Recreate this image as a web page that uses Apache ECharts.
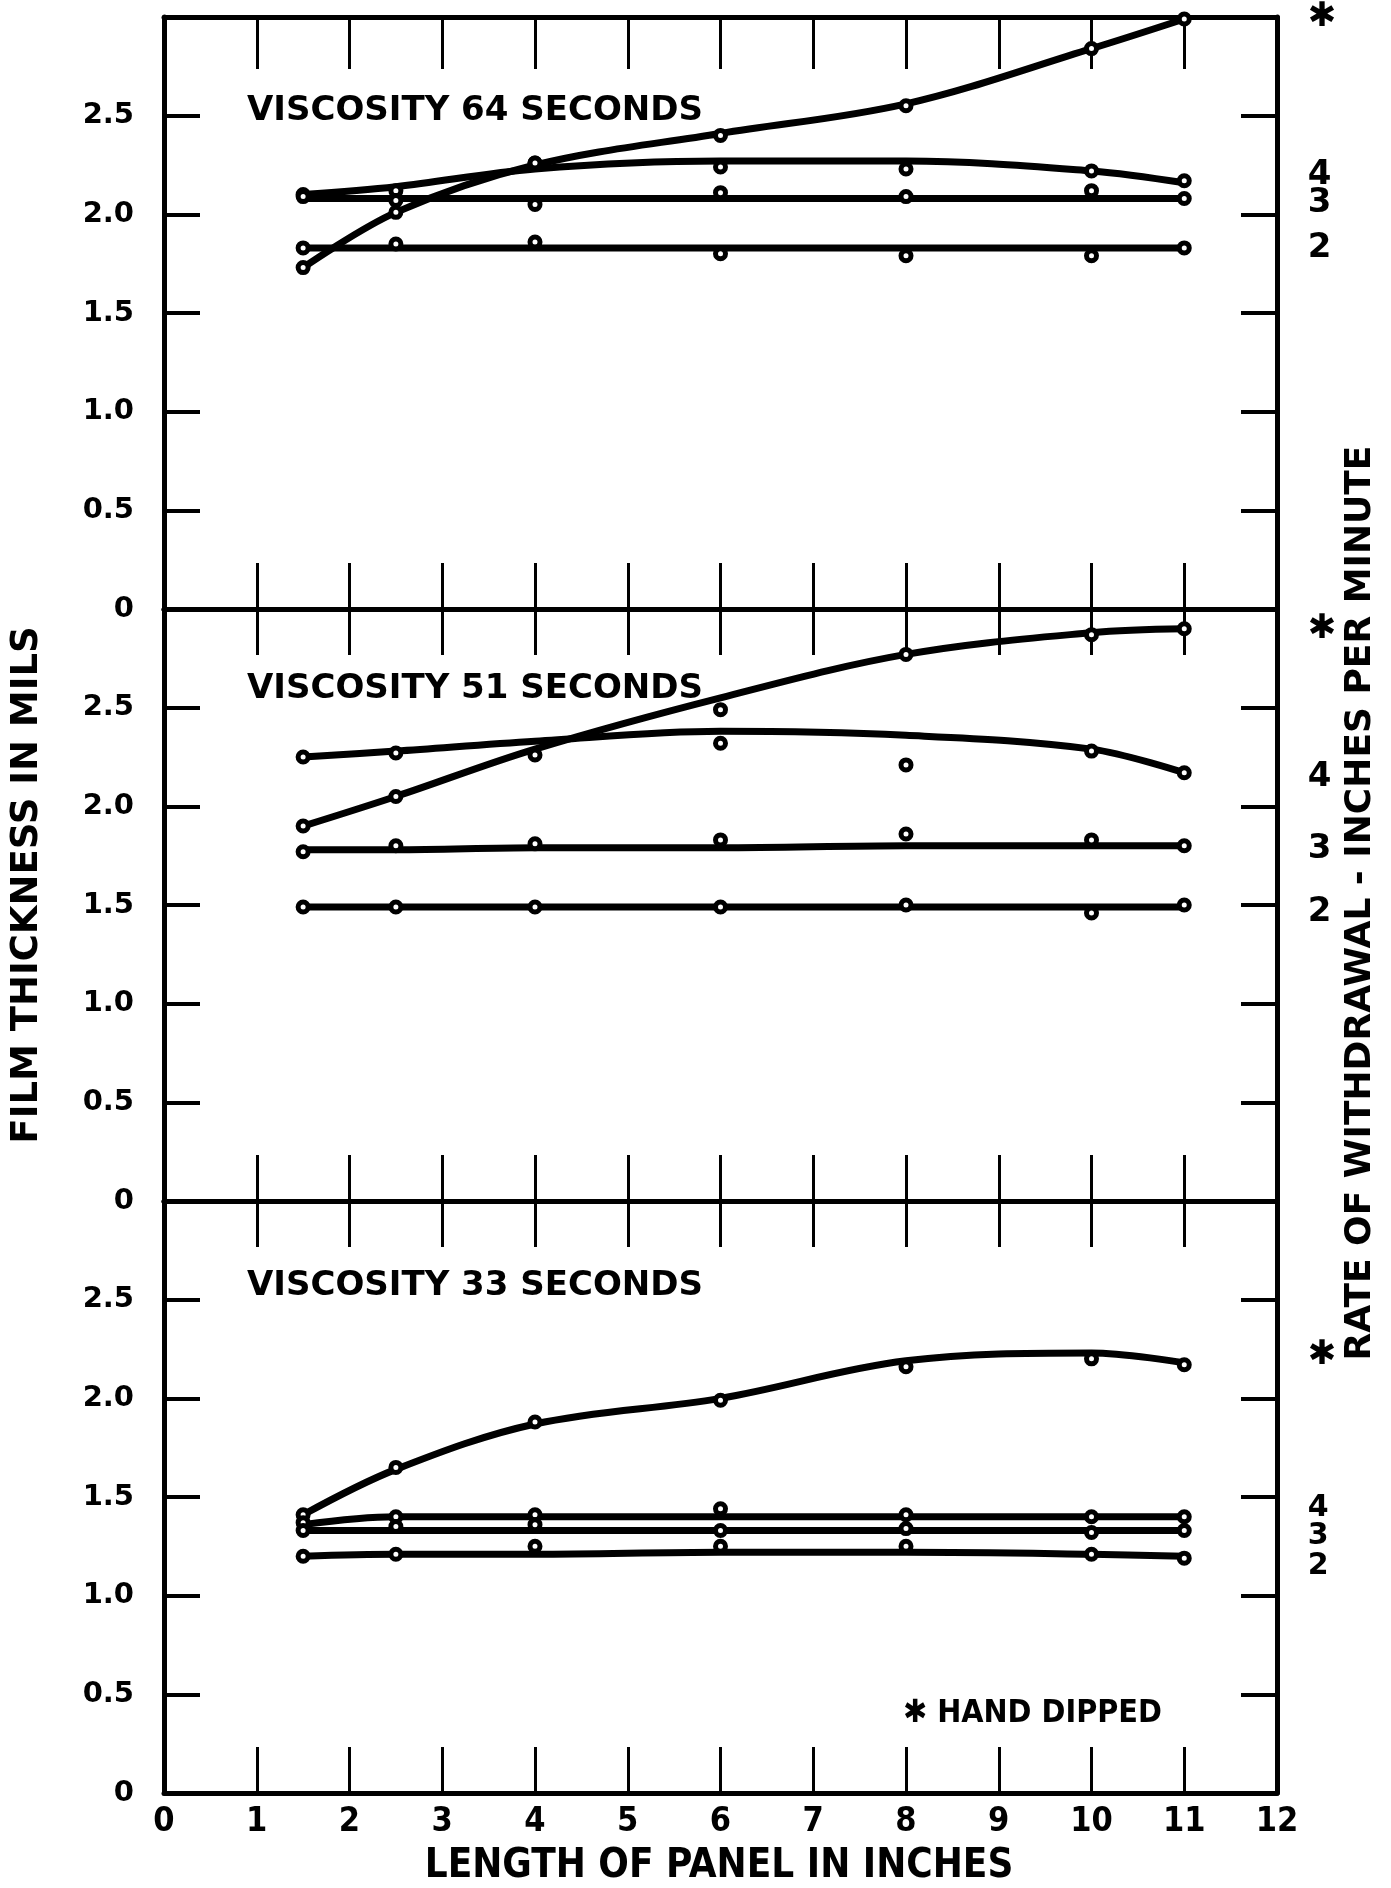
<!DOCTYPE html>
<html><head><meta charset="utf-8">
<script src="https://cdn.jsdelivr.net/npm/echarts@6/dist/echarts.min.js"></script>
<style>html,body{margin:0;padding:0;background:#fff}#chart{width:1391px;height:1888px}</style>
</head><body><div id="chart"></div>
<script>
// ---- data ----
const xInches = [1.5, 2.5, 4, 6, 8, 10, 11];
const xTickLabels = ['0','1','2','3','4','5','6','7','8','9','10','11','12'];
const panelTitles = ['VISCOSITY 64 SECONDS', 'VISCOSITY 51 SECONDS', 'VISCOSITY 33 SECONDS'];
const rateNames = ['✱', '4', '3', '2'];

// Viscosity 64 seconds
const v64HandPts = [1.73, 2.01, 2.26, 2.40, 2.55, 2.84, 2.99];
const v64HandFit = [1.73, 2.01, 2.25, 2.41, 2.56, 2.84, 2.99];
const v64R4Pts = [2.10, 2.12, 2.26, 2.24, 2.23, 2.22, 2.17];
const v64R4Fit = [2.10, 2.14, 2.23, 2.27, 2.27, 2.22, 2.16];
const v64R3Pts = [2.09, 2.07, 2.05, 2.11, 2.09, 2.12, 2.08];
const v64R3Fit = [2.08, 2.08, 2.08, 2.08, 2.08, 2.08, 2.08];
const v64R2Pts = [1.83, 1.85, 1.86, 1.80, 1.79, 1.79, 1.83];
const v64R2Fit = [1.83, 1.83, 1.83, 1.83, 1.83, 1.83, 1.83];

// Viscosity 51 seconds
const v51HandPts = [1.90, 2.05, 2.26, 2.49, 2.77, 2.87, 2.90];
const v51HandFit = [1.90, 2.05, 2.29, 2.55, 2.77, 2.88, 2.90];
const v51R4Pts = [2.25, 2.27, null, 2.32, 2.21, 2.28, 2.17];
const v51R4Fit = [2.25, 2.28, 2.33, 2.38, 2.36, 2.29, 2.17];
const v51R3Pts = [1.77, 1.80, 1.81, 1.83, 1.86, 1.83, 1.80];
const v51R3Fit = [1.78, 1.78, 1.79, 1.79, 1.80, 1.80, 1.80];
const v51R2Pts = [1.49, 1.49, 1.49, 1.49, 1.50, 1.46, 1.50];
const v51R2Fit = [1.49, 1.49, 1.49, 1.49, 1.49, 1.49, 1.49];

// Viscosity 33 seconds
const v33HandPts = [1.41, 1.65, 1.88, 1.99, 2.16, 2.20, 2.17];
const v33HandFit = [1.41, 1.64, 1.87, 2.00, 2.19, 2.23, 2.18];
const v33R4Pts = [1.37, 1.40, 1.41, 1.44, 1.41, 1.40, 1.40];
const v33R4Fit = [1.36, 1.40, 1.40, 1.40, 1.40, 1.40, 1.40];
const v33R3Pts = [1.33, 1.35, 1.36, 1.33, 1.34, 1.32, 1.33];
const v33R3Fit = [1.33, 1.33, 1.33, 1.33, 1.33, 1.33, 1.33];
const v33R2Pts = [1.20, 1.21, 1.25, 1.25, 1.25, 1.21, 1.19];
const v33R2Fit = [1.20, 1.21, 1.21, 1.22, 1.22, 1.21, 1.20];

const panels = [
  [[v64HandPts, v64HandFit], [v64R4Pts, v64R4Fit], [v64R3Pts, v64R3Fit], [v64R2Pts, v64R2Fit]],
  [[v51HandPts, v51HandFit], [v51R4Pts, v51R4Fit], [v51R3Pts, v51R3Fit], [v51R2Pts, v51R2Fit]],
  [[v33HandPts, v33HandFit], [v33R4Pts, v33R4Fit], [v33R3Pts, v33R3Fit], [v33R2Pts, v33R2Fit]]
];

// ---- layout / style ----
const FONT = 'DejaVu Sans';
const FONTC = '"DejaVu Sans Condensed", "Liberation Sans Narrow", "DejaVu Sans"';
const gridTops = [17, 609, 1201];
const gridH = 592, gridL = 164, gridW = 1113;
const titleTops = [94, 672, 1269];
// vertical nudges (px) of the right-hand rate labels, per panel and series
const labelNudge = [[-2, -6, 5, 0], [0, 4, 3, 7], [-10, -9, 6, 8]];
const labelSize = [[34, 34, 34, 34], [34, 34, 34, 34], [34, 30, 30, 30]];

const grid = [], xAxis = [], yAxis = [], series = [];
gridTops.forEach((t, gi) => {
  grid.push({left: gridL, top: t, width: gridW, height: gridH});
  xAxis.push({
    type: 'value', gridIndex: gi, position: 'bottom', min: 0, max: 12, interval: 1,
    axisLine: {show: true, onZero: false, lineStyle: {color: '#000', width: 5}},
    axisTick: {show: true, inside: true, length: 46, lineStyle: {color: '#000', width: 3}},
    axisLabel: {show: gi === 2, margin: 12, color: '#000', fontFamily: FONTC, fontWeight: 'bold', fontSize: 34,
      formatter: v => xTickLabels[Math.round(v)]},
    splitLine: {show: false}
  });
  xAxis.push({
    type: 'value', gridIndex: gi, position: 'top', min: 0, max: 12, interval: 1,
    axisLine: {show: true, onZero: false, lineStyle: {color: '#000', width: 5}},
    axisTick: {show: true, inside: true, length: gi === 0 ? 52 : 46, lineStyle: {color: '#000', width: 3}},
    axisLabel: {show: false}, splitLine: {show: false}
  });
  yAxis.push({
    type: 'value', gridIndex: gi, position: 'left', min: 0, max: 3, interval: 0.5,
    axisLine: {show: true, onZero: false, lineStyle: {color: '#000', width: 5}},
    axisTick: {show: true, inside: true, length: 36, lineStyle: {color: '#000', width: 4}},
    axisLabel: {show: true, margin: 30, color: '#000', fontFamily: FONT, fontWeight: 'bold', fontSize: 29,
      formatter: v => v >= 3 ? '' : (v === 0 ? '0' : v.toFixed(1))},
    splitLine: {show: false}
  });
  yAxis.push({
    type: 'value', gridIndex: gi, position: 'right', min: 0, max: 3, interval: 0.5,
    axisLine: {show: true, onZero: false, lineStyle: {color: '#000', width: 5}},
    axisTick: {show: true, inside: true, length: 36, lineStyle: {color: '#000', width: 4}},
    axisLabel: {show: false}, splitLine: {show: false}
  });

  panels[gi].forEach((pair, si) => {
    const [pts, fit] = pair;
    series.push({
      type: 'line', xAxisIndex: gi * 2, yAxisIndex: gi * 2, smooth: 0.35,
      symbol: 'none', silent: true, z: 2,
      lineStyle: {color: '#000', width: 7, opacity: 1},
      data: xInches.map((x, i) => [x, fit[i]])
    });
    const data = [];
    xInches.forEach((x, i) => {
      if (pts[i] == null) return;
      const item = {value: [x, pts[i]]};
      if (i === xInches.length - 1) {
        item.label = {
          show: true, position: 'right', distance: si === 0 ? 116 : 116,
          formatter: rateNames[si], color: '#000', opacity: 1, fontFamily: FONT, fontWeight: 'bold',
          fontSize: labelSize[gi][si], align: 'left', verticalAlign: 'middle',
          offset: [0, labelNudge[gi][si]]
        };
      }
      data.push(item);
    });
    series.push({
      type: 'scatter', xAxisIndex: gi * 2, yAxisIndex: gi * 2, symbol: 'circle', symbolSize: 10,
      silent: true, z: 3,
      itemStyle: {color: '#fff', borderColor: '#000', borderWidth: 5, opacity: 1},
      data: data
    });
  });
});

const title = panelTitles.map((t, i) => ({
  text: t, left: 247, top: titleTops[i], padding: 0,
  textStyle: {color: '#000', fontFamily: FONT, fontWeight: 'bold', fontSize: 34}
}));

const graphic = [
  {type: 'text', x: 27, y: 885, rotation: Math.PI / 2,
    style: {text: 'FILM THICKNESS IN MILS', fill: '#000', font: 'bold 37px "DejaVu Sans"',
      textAlign: 'center', textVerticalAlign: 'middle', align: 'center', verticalAlign: 'middle'}},
  {type: 'text', x: 1361, y: 903, rotation: Math.PI / 2,
    style: {text: 'RATE OF WITHDRAWAL - INCHES PER MINUTE', fill: '#000', font: 'bold 36px "DejaVu Sans"',
      textAlign: 'center', textVerticalAlign: 'middle', align: 'center', verticalAlign: 'middle'}},
  {type: 'text', x: 719, y: 1867,
    style: {text: 'LENGTH OF PANEL IN INCHES', fill: '#000', font: 'bold 40px "DejaVu Sans Condensed", "DejaVu Sans"',
      textAlign: 'center', textVerticalAlign: 'middle', align: 'center', verticalAlign: 'middle'}},
  {type: 'text', x: 903, y: 1714,
    style: {text: '✱ HAND DIPPED', fill: '#000', font: 'bold 32px "DejaVu Sans Condensed", "DejaVu Sans"',
      textAlign: 'left', textVerticalAlign: 'middle', align: 'left', verticalAlign: 'middle'}}
];

const chart = echarts.init(document.getElementById('chart'), null, {renderer: 'canvas'});
chart.setOption({
  animation: false, backgroundColor: '#fff',
  title, grid, xAxis, yAxis, series, graphic
});
</script></body></html>
